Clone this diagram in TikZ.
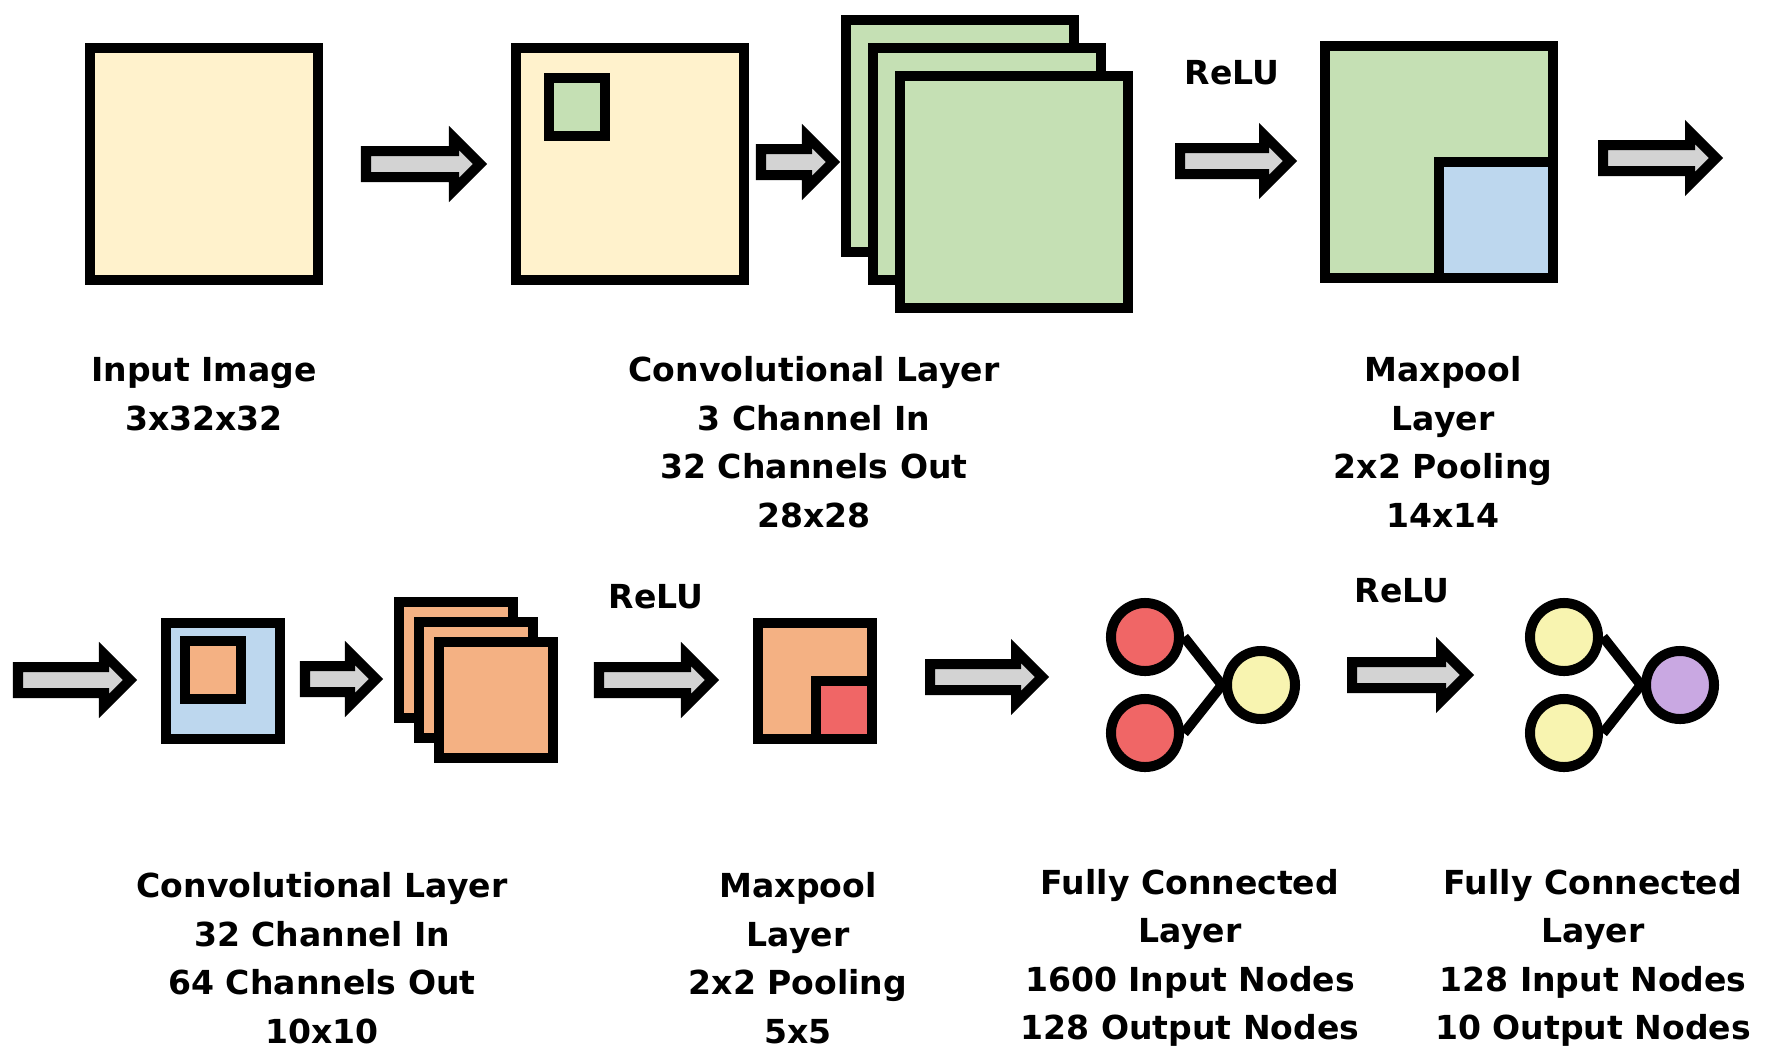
\documentclass[tikz,border=0pt]{standalone}
\usepackage{fontspec}
\setmainfont{DejaVu Sans}
\usepackage{tikz}
\usepackage{xcolor}

\definecolor{imgyellow}{HTML}{FFF2CC}
\definecolor{mapgreen}{HTML}{C5E0B4}
\definecolor{mapblue}{HTML}{BDD7EE}
\definecolor{maporange}{HTML}{F4B183}
\definecolor{mapred}{HTML}{F06666}
\definecolor{nodeyellow}{HTML}{F8F4B0}
\definecolor{nodepurple}{HTML}{C9A8E2}
\definecolor{arrowgrey}{HTML}{D3D3D3}

\begin{document}
\begin{tikzpicture}[x=0.01cm,y=-0.01cm,
  bigmap/.style={draw,line width=1mm,inner sep=0pt,minimum width=2.28cm,minimum height=2.32cm},
  smallmap/.style={draw,line width=1mm,inner sep=0pt,minimum width=1.14cm,minimum height=1.16cm},
  kern/.style={draw,line width=1mm,inner sep=0pt,minimum width=0.56cm,minimum height=0.58cm},
  neuron/.style={draw,circle,line width=1mm,inner sep=0pt,minimum size=0.68cm},
  synapse/.style={line width=1mm},
  blockarr/.style={draw,line width=1mm,fill=arrowgrey},
  caption/.style={font=\bfseries\fontsize{9.4}{13.8}\selectfont,align=center}]

\useasboundingbox (0,0) rectangle (1765,1063);

% top row
\node[bigmap,fill=imgyellow] (input) at (204,164) {};
\node[bigmap,fill=imgyellow] (conva) at (630,164) {};
\node[kern,fill=mapgreen] (kerna) at (577,107) {};
\node[bigmap,fill=mapgreen] (fmapa) at (960,136) {};
\node[bigmap,fill=mapgreen] (fmapb) at (987,164) {};
\node[bigmap,fill=mapgreen] (fmapc) at (1014,192) {};
\node[bigmap,fill=mapgreen] (poola) at (1439,162) {};
\node[smallmap,fill=mapblue] (poolawin) at (1496,220) {};
\node[caption] (relua) at (1232,73) {ReLU};

% bottom row
\node[smallmap,fill=mapblue] (convb) at (223,681) {};
\node[kern,fill=maporange] (kernb) at (213,670) {};
\node[smallmap,fill=maporange] (fmapd) at (456,660) {};
\node[smallmap,fill=maporange] (fmape) at (476,680) {};
\node[smallmap,fill=maporange] (fmapf) at (496,700) {};
\node[smallmap,fill=maporange] (poolb) at (815,681) {};
\node[kern,fill=mapred] (poolbwin) at (844,710) {};
\node[caption] (relub) at (656,597) {ReLU};

\node[neuron,fill=mapred] (fcaa) at (1145,637) {};
\node[neuron,fill=mapred] (fcab) at (1145,733) {};
\node[neuron,fill=nodeyellow] (fcb) at (1261,685) {};
\draw[synapse] (fcaa.east) -- (fcb.west);
\draw[synapse] (fcab.east) -- (fcb.west);
\node[caption] (reluc) at (1402,591) {ReLU};
\node[neuron,fill=nodeyellow] (fcba) at (1564,637) {};
\node[neuron,fill=nodeyellow] (fcbb) at (1564,733) {};
\node[neuron,fill=nodepurple] (fcc) at (1680,685) {};
\draw[synapse] (fcba.east) -- (fcc.west);
\draw[synapse] (fcbb.east) -- (fcc.west);

% block arrows
\foreach \xs/\xt/\yc in {366/480/164, 761/833/162, 1180/1290/161, 1603/1716/158,
  18/130/680, 305/376/679, 599/712/680, 930/1042/677, 1352/1467/675}
  \draw[blockarr] (\xs,\yc-13) -- (\xt-26,\yc-13) -- (\xt-26,\yc-26) -- (\xt,\yc)
    -- (\xt-26,\yc+26) -- (\xt-26,\yc+13) -- (\xs,\yc+13) -- cycle;

% captions
\node[caption] (inputlbl) at (204,394) {Input Image\\3x32x32};
\node[caption] (convalbl) at (814,442) {Convolutional Layer\\3 Channel In\\32 Channels Out\\28x28};
\node[caption] (poolalbl) at (1443,442) {Maxpool\\Layer\\2x2 Pooling\\14x14};
\node[caption] (convblbl) at (322,958) {Convolutional Layer\\32 Channel In\\64 Channels Out\\10x10};
\node[caption] (poolblbl) at (798,958) {Maxpool\\Layer\\2x2 Pooling\\5x5};
\node[caption] (fcalbl) at (1190,958) {Fully Connected\\Layer\\1600 Input Nodes\\128 Output Nodes};
\node[caption] (fcblbl) at (1593,958) {Fully Connected\\Layer\\128 Input Nodes\\10 Output Nodes};
\end{tikzpicture}
\end{document}
